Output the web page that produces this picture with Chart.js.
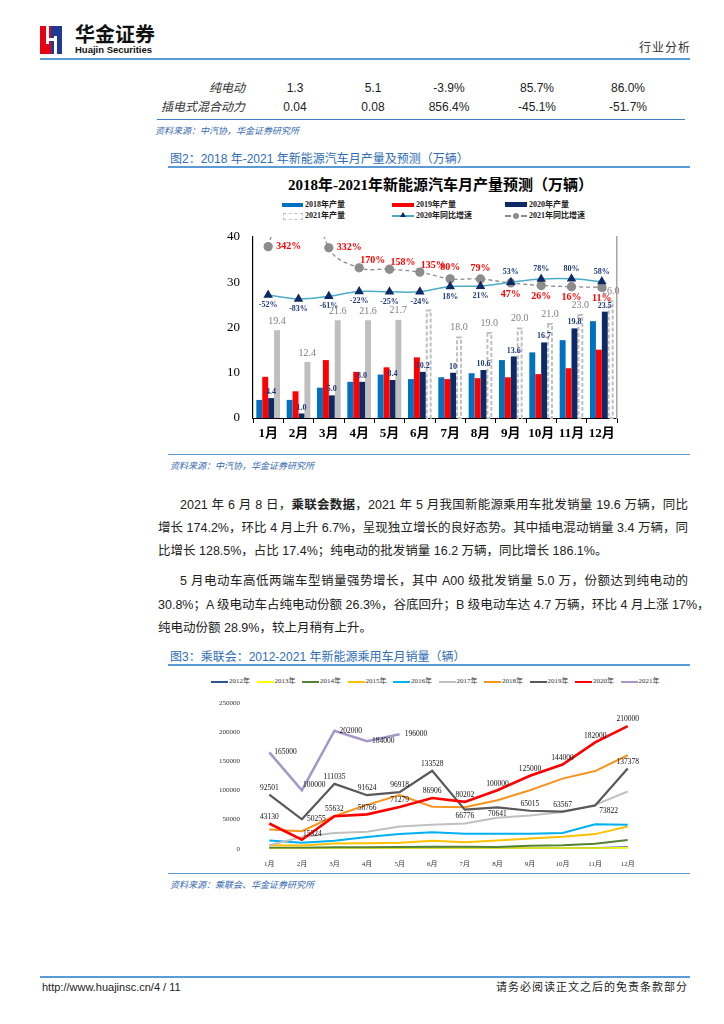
<!DOCTYPE html>
<html lang="zh-CN">
<head>
<meta charset="utf-8">
<title>新能源汽车月产量预测 / 乘用车月销量</title>
<script src="https://cdn.jsdelivr.net/npm/chart.js@4.4.1/dist/chart.umd.min.js"></script>
<style>
  html, body { margin: 0; padding: 0; background: #fff; }
  body { width: 724px; height: 1024px; position: relative; overflow: hidden;
         font-family: "Liberation Sans", "Noto Sans CJK SC", sans-serif; color: #222; }
  .abs { position: absolute; white-space: nowrap; }
  .rule { position: absolute; height: 0; border-top: 2px solid #5B9BD5; }
  .src { position: absolute; font-size: 9px; font-style: italic; color: #3569B0; white-space: nowrap; }
  .cap { position: absolute; font-size: 12px; color: #2F6DB5; white-space: nowrap; line-height: 14px; }
  .cell { position: absolute; width: 80px; text-align: center; font-size: 12px; line-height: 14px; color: #222; }
  .rowname { position: absolute; right: 479px; font-size: 12px; line-height: 14px; font-style: italic; color: #333; white-space: nowrap; }
  .p { position: absolute; font-size: 12.5px; line-height: 16px; color: #222; white-space: nowrap;
       text-align: justify; text-align-last: justify; }
  .p.last { text-align-last: left; }
  .lg1 { position: absolute; font: bold 8px "Liberation Serif", "Noto Sans CJK SC", serif; color: #222; line-height: 10px; white-space: nowrap; }
  .lg2 { position: absolute; font: 7px "Liberation Serif", "Noto Sans CJK SC", serif; color: #333; line-height: 9px; white-space: nowrap; }
  .sw { position: absolute; }
</style>
</head>
<body>

<!-- header -->
<div class="sw" style="left:40px;top:26px;width:11px;height:28px;background:#E60012"></div>
<div class="sw" style="left:51px;top:26px;width:11px;height:28px;background:#1F3A93"></div>
<div class="sw" style="left:46px;top:26px;width:3px;height:18px;background:#fff"></div>
<div class="sw" style="left:54px;top:36px;width:3px;height:18px;background:#fff"></div>
<div class="sw" style="left:46px;top:38px;width:11px;height:3px;background:#fff"></div>
<div class="abs" style="left:75px;top:22px;font-size:20px;font-weight:bold;font-family:'Noto Sans CJK SC';color:#111;line-height:24px">华金证券</div>
<div class="abs" style="left:75px;top:44px;font-size:9.5px;font-weight:bold;color:#111;line-height:11px">Huajin Securities</div>
<div class="abs" style="left:639px;top:41px;font-size:12px;color:#333;letter-spacing:1px;line-height:14px">行业分析</div>
<div class="rule" style="left:40px;top:58px;width:650px;border-top:2px solid #5B9BD5"></div>

<!-- table tail -->
<div class="rowname" style="top:81px">纯电动</div>
<div class="cell" style="left:255px;top:81px">1.3</div>
<div class="cell" style="left:333px;top:81px">5.1</div>
<div class="cell" style="left:409px;top:81px">-3.9%</div>
<div class="cell" style="left:497px;top:81px">85.7%</div>
<div class="cell" style="left:588px;top:81px">86.0%</div>
<div class="rowname" style="top:100px">插电式混合动力</div>
<div class="cell" style="left:255px;top:100px">0.04</div>
<div class="cell" style="left:333px;top:100px">0.08</div>
<div class="cell" style="left:409px;top:100px">856.4%</div>
<div class="cell" style="left:497px;top:100px">-45.1%</div>
<div class="cell" style="left:588px;top:100px">-51.7%</div>
<div class="rule" style="left:157px;top:119px;width:528px;border-top:1.5px solid #3F83C6"></div>
<div class="src" style="left:155px;top:124px">资料来源：中汽协，华金证券研究所</div>

<!-- figure 2 -->
<div class="cap" style="left:170px;top:152px">图2：2018 年-2021 年新能源汽车月产量及预测（万辆）</div>
<div class="rule" style="left:168px;top:166px;width:522px"></div>
<div class="abs" style="left:288px;top:176px;width:305px;text-align:center;font:bold 15px 'Liberation Serif','Noto Sans CJK SC',serif;color:#000;line-height:19px">2018年-2021年新能源汽车月产量预测（万辆）</div>

<div class="sw" style="left:282px;top:203px;width:21px;height:4px;background:#0070C0"></div>
<div class="lg1" style="left:305px;top:200px">2018年产量</div>
<div class="sw" style="left:392px;top:203px;width:22px;height:4px;background:#FF0000"></div>
<div class="lg1" style="left:416px;top:200px">2019年产量</div>
<div class="sw" style="left:505px;top:202px;width:22px;height:5px;background:#0E2A66"></div>
<div class="lg1" style="left:529px;top:200px">2020年产量</div>
<div class="sw" style="left:283px;top:213px;width:18px;height:5px;border:1px dashed #BFBFBF"></div>
<div class="lg1" style="left:305px;top:211px">2021年产量</div>
<div class="sw" style="left:392px;top:215px;width:22px;height:2px;background:#4BACC6"></div>
<div class="sw" style="left:400px;top:212px;width:0;height:0;border-left:3px solid transparent;border-right:3px solid transparent;border-bottom:5px solid #0E2A66"></div>
<div class="lg1" style="left:416px;top:211px">2020年同比增速</div>
<div class="sw" style="left:505px;top:215px;width:22px;height:0;border-top:2px dashed #8C8C8C"></div>
<div class="sw" style="left:513px;top:213px;width:6px;height:6px;border-radius:3px;background:#8C8C8C"></div>
<div class="lg1" style="left:529px;top:211px">2021年同比增速</div>

<canvas id="prodChart" width="440" height="220" style="position:absolute;left:200px;top:225px"></canvas>

<div class="rule" style="left:168px;top:454px;width:522px;border-top:1.5px solid #5B9BD5"></div>
<div class="src" style="left:170px;top:459px">资料来源：中汽协，华金证券研究所</div>

<!-- body text -->
<div class="p" style="left:180px;top:497px;width:508px">2021 年 6 月 8 日，<b>乘联会数据</b>，2021 年 5 月我国新能源乘用车批发销量 19.6 万辆，同比</div>
<div class="p" style="left:158px;top:520px;width:530px">增长 174.2%，环比 4 月上升 6.7%，呈现独立增长的良好态势。其中插电混动销量 3.4 万辆，同</div>
<div class="p last" style="left:158px;top:543px;width:530px">比增长 128.5%，占比 17.4%；纯电动的批发销量 16.2 万辆，同比增长 186.1%。</div>
<div class="p" style="left:180px;top:573px;width:508px">5 月电动车高低两端车型销量强势增长，其中 A00 级批发销量 5.0 万，份额达到纯电动的</div>
<div class="p" style="left:158px;top:597px;width:530px">30.8%；A 级电动车占纯电动份额 26.3%，谷底回升；B 级电动车达 4.7 万辆，环比 4 月上涨 17%，</div>
<div class="p last" style="left:158px;top:620px;width:530px">纯电动份额 28.9%，较上月稍有上升。</div>

<!-- figure 3 -->
<div class="cap" style="left:170px;top:650px">图3：乘联会：2012-2021 年新能源乘用车月销量（辆）</div>
<div class="rule" style="left:168px;top:664px;width:522px"></div>
<div id="legend2"></div>
<canvas id="salesChart" width="465" height="180" style="position:absolute;left:195px;top:690px"></canvas>
<div class="rule" style="left:168px;top:873px;width:522px;border-top:1.5px solid #5B9BD5"></div>
<div class="src" style="left:170px;top:878px">资料来源：乘联会、华金证券研究所</div>

<!-- footer -->
<div class="rule" style="left:40px;top:976px;width:650px"></div>
<div class="abs" style="left:42px;top:980px;font-size:11px;color:#222;line-height:14px">http://www.huajinsc.cn/4 / 11</div>
<div class="abs" style="right:36px;top:980px;font-size:11px;color:#222;letter-spacing:1px;line-height:14px">请务必阅读正文之后的免责条款部分</div>

<script>
// ---------- figure 2 data (万辆) ----------
const months = ['1月', '2月', '3月', '4月', '5月', '6月', '7月', '8月', '9月', '10月', '11月', '12月'];
const prod2018 = [4.0, 4.0, 6.7, 8.0, 9.6, 8.6, 9.0, 9.9, 12.8, 14.5, 17.2, 21.4];
const prod2019 = [9.1, 5.9, 12.8, 10.2, 11.2, 13.4, 8.6, 8.8, 9.0, 9.7, 11.0, 15.1];
const prod2020 = [4.4, 1.0, 5.0, 8.0, 8.4, 10.2, 10, 10.6, 13.6, 16.7, 19.8, 23.5];
const prod2020Text = ['4.4', '1.0', '5.0', '8.0', '8.4', '10.2', '10', '10.6', '13.6', '16.7', '19.8', '23.5'];
const prod2021 = [19.4, 12.4, 21.6, 21.6, 21.7, 24.0, 18.0, 19.0, 20.0, 21.0, 23.0, 26.0];
const prod2021Text = ['19.4', '12.4', '21.6', '21.6', '21.7', null, '18.0', '19.0', '20.0', '21.0', '23.0', '26.0'];
const firstForecast = 5;   // 6月 onward is forecast
const yoy2020 = [-52, -83, -61, -22, -25, -24, 18, 21, 53, 78, 80, 58];
const yoy2021 = [342, 1140, 332, 170, 158, 135, 80, 79, 47, 26, 16, 11];
const yTicks1 = [0, 10, 20, 30, 40];

// ---------- figure 3 data (辆) ----------
const salesMonths = months;
const years = ['2012年', '2013年', '2014年', '2015年', '2016年', '2017年', '2018年', '2019年', '2020年', '2021年'];
const sales2012 = [400, 400, 500, 500, 600, 600, 700, 700, 800, 900, 1200, 2500];
const sales2013 = [300, 300, 400, 400, 500, 500, 600, 600, 700, 800, 900, 1200];
const sales2014 = [1800, 1500, 2500, 2600, 3000, 3500, 3200, 2900, 5000, 6000, 8500, 15000];
const sales2015 = [6000, 5500, 9000, 9500, 10000, 13500, 11000, 14000, 17500, 20500, 25000, 38000];
const sales2016 = [14000, 10000, 13500, 20000, 25000, 28000, 25500, 25500, 25500, 27000, 42000, 41000];
const sales2017 = [6000, 20000, 27000, 29000, 38000, 41000, 43000, 53000, 57000, 63000, 75000, 98000];
const sales2018 = [33000, 30000, 56000, 75000, 92000, 72000, 71000, 83000, 100000, 120000, 133000, 160000];
const sales2019 = [92501, 50255, 111035, 91624, 96918, 133528, 66776, 70641, 65015, 63567, 73822, 137378];
const sales2020 = [43130, 15324, 55632, 58766, 71279, 86906, 80202, 100000, 125000, 144000, 182000, 210000];
const sales2021 = [165000, 100000, 202000, 184000, 196000];
const yTicks2 = [0, 50000, 100000, 150000, 200000, 250000];

// label placement keywords (t = above, b = below, r = right, tr = above right)
const pos2020yoy = ['b', 'b', 'b', 'b', 'b', 'b', 'b', 'b', 't', 't', 't', 't'];
const pos2021yoy = ['r', 'r', 'r', 'tr', 'tr', 'tr', 't', 't', 'b', 'b', 'b', 'b'];
const pos2019 = ['t', 'r', 't', 't', 't', 't', 'b', 'b', 't', 't', 'br', 't'];
const pos2020 = ['t', 'tr', 't', 't', 't', 't', 't', 't', 't', 't', 't', 't'];
const pos2021 = ['r', 'tr', 'r', 'r', 'r'];

const serif = '"Liberation Serif", "Noto Sans CJK SC", serif';

// draws value labels next to points / bars
const valueLabels = {
  id: 'valueLabels',
  afterDatasetsDraw(chart) {
    const ctx = chart.ctx;
    const area = chart.chartArea;
    chart.data.datasets.forEach((ds, di) => {
      if (!ds.tagText) return;
      const meta = chart.getDatasetMeta(di);
      const gap = ds.tagGap || 4;
      ctx.save();
      ctx.font = ds.tagFont;
      ctx.fillStyle = ds.tagColor;
      meta.data.forEach((el, i) => {
        const txt = ds.tagText[i];
        if (txt == null) return;
        if (el.y < area.top - 2 || el.y > area.bottom + 2) return;
        const pos = ds.tagPos ? ds.tagPos[i] : 't';
        let x = el.x, y = el.y;
        if (pos == 't') { ctx.textAlign = 'center'; ctx.textBaseline = 'bottom'; y -= gap; }
        else if (pos == 'b') { ctx.textAlign = 'center'; ctx.textBaseline = 'top'; y += gap; }
        else if (pos == 'r') { ctx.textAlign = 'left'; ctx.textBaseline = 'middle'; x += gap + 2; }
        else if (pos == 'tr') { ctx.textAlign = 'left'; ctx.textBaseline = 'bottom'; x += 1; y -= 2; }
        else if (pos == 'br') { ctx.textAlign = 'left'; ctx.textBaseline = 'top'; x += 4; y += 2; }
        ctx.fillText(txt, x, y);
      });
      ctx.restore();
    });
  }
};

// dashed outline for the forecast bars
const forecastOutline = {
  id: 'forecastOutline',
  afterDatasetDraw(chart, args) {
    const ds = chart.data.datasets[args.index];
    if (ds.forecastFrom == null) return;
    const ctx = chart.ctx;
    ctx.save();
    ctx.strokeStyle = '#BFBFBF';
    ctx.lineWidth = 2;
    ctx.setLineDash([4, 2]);
    args.meta.data.forEach((bar, i) => {
      if (i < ds.forecastFrom) return;
      const p = bar.getProps(['x', 'y', 'width', 'base'], true);
      ctx.strokeRect(p.x - p.width / 2 + 1, p.y + 1, p.width - 2, p.base - p.y - 1);
    });
    ctx.restore();
  }
};

const prodChart = new Chart(document.getElementById('prodChart'), {
  type: 'bar',
  data: {
    labels: months,
    datasets: [
      { label: '2020年同比增速', type: 'line', yAxisID: 'y2', order: 0, data: yoy2020,
        borderColor: '#4BACC6', borderWidth: 1.5, tension: 0.4,
        pointStyle: 'triangle', pointRadius: 4, pointBackgroundColor: '#0E2A66', pointBorderColor: '#0E2A66',
        tagText: yoy2020.map(v => v + '%'), tagPos: pos2020yoy, tagGap: 6,
        tagFont: 'bold 8px ' + serif, tagColor: '#1F3A7A' },
      { label: '2021年同比增速', type: 'line', yAxisID: 'y2', order: 0, data: yoy2021,
        borderColor: '#8C8C8C', borderWidth: 1.3, borderDash: [4, 3], tension: 0.4,
        pointStyle: 'circle', pointRadius: 4, pointBackgroundColor: '#8C8C8C', pointBorderColor: '#8C8C8C',
        tagText: yoy2021.map((v, i) => i == 1 ? null : v + '%'), tagPos: pos2021yoy, tagGap: 6,
        tagFont: 'bold 10px ' + serif, tagColor: '#FF0000' },
      { label: '2018年产量', data: prod2018, backgroundColor: '#0070C0', order: 1 },
      { label: '2019年产量', data: prod2019, backgroundColor: '#FF0000', order: 1 },
      { label: '2020年产量', data: prod2020, backgroundColor: '#0E2A66', order: 1,
        tagText: prod2020Text, tagGap: 2, tagFont: 'bold 8px ' + serif, tagColor: '#1F3A7A' },
      { label: '2021年产量', data: prod2021, order: 1,
        backgroundColor: prod2021.map((v, i) => i < firstForecast ? '#BFBFBF' : '#FFFFFF'),
        forecastFrom: firstForecast,
        tagText: prod2021Text, tagGap: 4, tagFont: '10px ' + serif, tagColor: '#808080' }
    ]
  },
  options: {
    responsive: false,
    animation: false,
    devicePixelRatio: 1,
    layout: { padding: { top: 12, left: 0, right: 0, bottom: 0 } },
    datasets: { bar: { categoryPercentage: 0.78, barPercentage: 1.0 } },
    plugins: { legend: { display: false }, tooltip: { enabled: false } },
    scales: {
      x: {
        grid: { display: true, drawOnChartArea: false, drawTicks: true, tickLength: 5, offset: true, color: '#000' },
        border: { display: true, color: '#000', width: 1 },
        ticks: { color: '#000', font: { family: serif, size: 13, weight: 'bold' }, padding: 3,
                 maxRotation: 0, minRotation: 0, autoSkip: false },
        afterFit: s => { s.height = 27; }
      },
      y: {
        min: 0, max: 40,
        afterBuildTicks: s => { s.ticks = yTicks1.map(v => ({ value: v })); },
        // gap to the labels comes from the (hidden) tick length, so the top padding stays small
        grid: { display: false, drawTicks: true, tickLength: 11 },
        border: { display: true, color: '#000', width: 1.2 },
        ticks: { color: '#000', font: { family: serif, size: 13 }, padding: 2 },
        afterFit: s => { s.width = 53; }
      },
      y2: {
        position: 'right', min: -1050, max: 420,
        grid: { display: false },
        border: { display: true, color: '#A6A6A6', width: 1.5 },
        ticks: { display: false },
        afterFit: s => { s.width = 23; }
      }
    }
  },
  plugins: [forecastOutline, valueLabels]
});

// ---------- figure 3 ----------
const lineColors = ['#2F5597', '#FFFF00', '#548235', '#FFC000', '#00B0F0', '#C0C0C0', '#F7941D', '#595959', '#FF0000', '#A597C8'];
const lineWidths = [2, 2, 2, 2, 2, 2, 2, 2.2, 2.6, 2.6];
const allSales = [sales2012, sales2013, sales2014, sales2015, sales2016, sales2017, sales2018, sales2019, sales2020, sales2021];
const tagPositions = { 7: pos2019, 8: pos2020, 9: pos2021 };

const salesDatasets = allSales.map((arr, i) => {
  const ds = {
    label: years[i], data: arr, borderColor: lineColors[i], backgroundColor: lineColors[i],
    borderWidth: lineWidths[i], pointRadius: 0, tension: 0, order: 9 - i
  };
  if (tagPositions[i]) {
    ds.tagText = arr.map(v => String(v));
    ds.tagPos = tagPositions[i];
    ds.tagGap = 3;
    ds.tagFont = '7.5px ' + serif;
    ds.tagColor = '#111';
  }
  return ds;
});

// legend row for figure 3
const legendBox = document.getElementById('legend2');
years.forEach((y, i) => {
  const x = 211 + i * 45.5;
  legendBox.insertAdjacentHTML('beforeend',
    `<div class="sw" style="left:${x}px;top:680.5px;width:17px;height:2.5px;background:${lineColors[i]}"></div>` +
    `<div class="lg2" style="left:${x + 18}px;top:677px">${y}</div>`);
});

new Chart(document.getElementById('salesChart'), {
  type: 'line',
  data: { labels: salesMonths, datasets: salesDatasets },
  options: {
    responsive: false,
    animation: false,
    devicePixelRatio: 1,
    layout: { padding: { top: 12.7, right: 16, left: 0, bottom: 0 } },
    plugins: { legend: { display: false }, tooltip: { enabled: false } },
    scales: {
      x: {
        offset: true,
        grid: { display: false },
        border: { display: false },
        ticks: { color: '#333', font: { family: serif, size: 7 }, padding: 3, maxRotation: 0, autoSkip: false },
        afterFit: s => { s.height = 21.3; }
      },
      y: {
        min: 0, max: 250000,
        afterBuildTicks: s => { s.ticks = yTicks2.map(v => ({ value: v })); },
        grid: { display: false },
        border: { display: false },
        ticks: { color: '#333', font: { family: serif, size: 7 }, padding: 5, callback: v => String(v) },
        afterFit: s => { s.width = 58; }
      }
    }
  },
  plugins: [valueLabels]
});
</script>
</body>
</html>
